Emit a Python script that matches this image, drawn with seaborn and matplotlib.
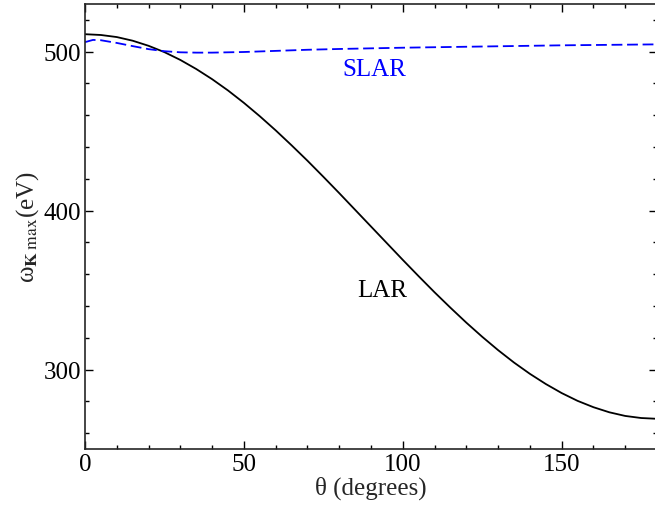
import matplotlib
matplotlib.use("Agg")
import matplotlib.pyplot as plt
from matplotlib.ticker import MultipleLocator
import pandas as pd
import seaborn as sns

# Maximum frequency vs. angle for the two configurations
theta_lar = [0, 5, 10, 15, 20, 25, 30, 35, 40, 45, 50, 55, 60, 65, 70, 75, 80, 85, 90,
             95, 100, 105, 110, 115, 120, 125, 130, 135, 140, 145, 150, 155, 160, 165,
             170, 175, 180]
omega_lar = [511.0, 510.5, 509.2, 506.9, 503.7, 499.7, 494.8, 489.1, 482.7, 475.6, 467.8,
             459.4, 450.5, 441.1, 431.4, 421.3, 411.0, 400.5, 390.0, 379.5, 369.0, 358.7,
             348.6, 338.9, 329.5, 320.6, 312.2, 304.4, 297.3, 290.9, 285.2, 280.3, 276.3,
             273.1, 270.8, 269.5, 269.0]

theta_slar = [0, 2.5, 5, 10, 15, 20, 25, 30, 35, 40, 50, 60, 70, 80, 90, 100, 110, 120,
              130, 140, 150, 160, 170, 180]
omega_slar = [506.0, 507.4, 507.2, 505.5, 503.5, 501.6, 500.3, 499.6, 499.4, 499.4, 499.8,
              500.5, 501.2, 501.7, 502.1, 502.5, 502.8, 503.1, 503.4, 503.7, 504.0, 504.2,
              504.4, 504.6]

x_ticks = [0, 50, 100, 150]
y_ticks = [300, 400, 500]

sns.set_style("ticks")
plt.rcParams["font.family"] = ["Liberation Serif", "DejaVu Serif"]
plt.rcParams["mathtext.fontset"] = "stix"

lar = pd.DataFrame({"theta": theta_lar, "omega": omega_lar})
slar = pd.DataFrame({"theta": theta_slar, "omega": omega_slar})

fig = plt.figure(figsize=(6.55, 5.06), dpi=100)
ax = fig.add_axes([85 / 655, 56 / 506, 572 / 655, 445 / 506])

sns.lineplot(data=lar, x="theta", y="omega", ax=ax, color="black", lw=1.3)
sns.lineplot(data=slar, x="theta", y="omega", ax=ax, color="#0000ff", lw=1.3,
             dashes=False)
ax.lines[-1].set_dashes((6.0, 2.6))

ax.set_xlim(0, 180)
ax.set_ylim(250, 530)
ax.set_xticks(x_ticks)
ax.set_yticks(y_ticks)
ax.xaxis.set_minor_locator(MultipleLocator(10))
ax.yaxis.set_minor_locator(MultipleLocator(20))
ax.tick_params(which="both", direction="in", top=True, right=True, width=1.0,
               labelsize=18, colors="black", pad=3)
ax.tick_params(which="major", length=6)
ax.tick_params(which="minor", length=3)
for s in ax.spines.values():
    s.set_linewidth(1.2)
    s.set_visible(True)

ax.set_xlabel("θ (degrees)", fontsize=18, labelpad=0)
ax.set_ylabel(r"ω$_{\mathbf{K}\;\mathrm{max}}$(eV)", fontsize=18, labelpad=2)

ax.text(91, 489, "SLAR", color="#0000ff", fontsize=18, ha="center", va="center")
ax.text(93.5, 350, "LAR", color="black", fontsize=18, ha="center", va="center")

fig.savefig("out.png", dpi=100)
